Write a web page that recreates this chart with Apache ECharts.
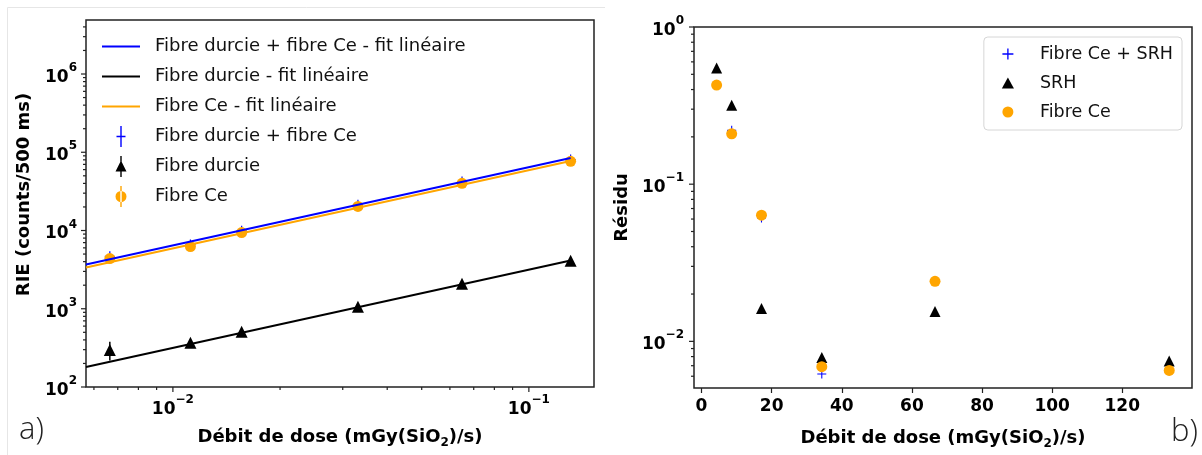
<!DOCTYPE html>
<html><head><meta charset="utf-8">
<script src="https://cdn.jsdelivr.net/npm/echarts@6/dist/echarts.min.js"></script>
<style>html,body{margin:0;padding:0;background:#fff}#c{width:1202px;height:455px}</style>
</head><body><div id="c"></div>
<script>
// ---------- data : panel a) ----------
const doseRIE      = [0.00665, 0.0112, 0.0156, 0.0331, 0.0649, 0.131];
const rieSum       = [4680, 6610, 9930, 21400, 42200, 80800];
const rieSumErr    = [300, 350, 450, 900, 1800, 3500];
const rieDurcie    = [298, 367, 507, 1062, 2090, 4120];
const rieDurcieErr = [80, 20, 25, 50, 90, 150];
const rieCe        = [4380, 6240, 9420, 20300, 40100, 76700];
const rieCeErr     = [250, 300, 400, 800, 1500, 3000];
const fitDose      = [0.0057, 0.131];
const fitSum       = [3670, 84300];
const fitDurcie    = [180, 4130];
const fitCe        = [3360, 77300];

// ---------- data : panel b) ----------
const doseRes = [4.3, 8.6, 17.1, 34.3, 66.6, 133.4];
const resSum  = [0.43, 0.22, 0.061, 0.0062, 0.024, 0.0065];
const resSRH  = [0.548, 0.318, 0.0162, 0.0079, 0.0155, 0.0075];
const resCe   = [0.427, 0.209, 0.0635, 0.0069, 0.0241, 0.00653];

// ---------- ticks ----------
const rieMajor  = [1e2, 1e3, 1e4, 1e5, 1e6];
const rieMinor  = [200,300,400,500,600,700,800,900, 2e3,3e3,4e3,5e3,6e3,7e3,8e3,9e3,
                   2e4,3e4,4e4,5e4,6e4,7e4,8e4,9e4, 2e5,3e5,4e5,5e5,6e5,7e5,8e5,9e5, 2e6,3e6,4e6];
const doseMajor = [0.01, 0.1];
const doseMinor = [0.006,0.007,0.008,0.009, 0.02,0.03,0.04,0.05,0.06,0.07,0.08,0.09];
const resMajor  = [0.01, 0.1, 1];
const resMinor  = [0.006,0.007,0.008,0.009, 0.02,0.03,0.04,0.05,0.06,0.07,0.08,0.09,
                   0.2,0.3,0.4,0.5,0.6,0.7,0.8,0.9];
const doseLinTicks = [0, 20, 40, 60, 80, 100, 120];

const FONT = 'DejaVu Sans';
const BLUE = '#0000ff', ORANGE = '#ffa500', BLACK = '#000000';

const plusPath = 'path://M0,4.4 H10 V5.6 H0 Z M4.4,0 H5.6 V10 H4.4 Z';
const triPath  = 'path://M5.5,0 L11,10 L0,10 Z';
const linePath = 'path://M0,0 H38 V2 H0 Z';
const plusBar  = 'path://M0,9.8 H9 V11.2 H0 Z M3.8,0 H5.2 V21 H3.8 Z';
const triBar   = 'path://M5.5,4.5 L11,15.5 L0,15.5 Z M4.8,0 H6.2 V21 H4.8 Z';
const circBar  = 'path://M0,10.5 A5.5,5.5 0 1 0 11,10.5 A5.5,5.5 0 1 0 0,10.5 Z M4.8,0 H6.2 V21 H4.8 Z';

function logLabel(v) {
  const e = Math.log10(v), r = Math.round(e);
  if (Math.abs(e - r) > 1e-6) return '';
  return '{b|10}{s|' + (r < 0 ? '\u2212' + (-r) : r) + '}';
}
const logRich = {
  b: {fontFamily: FONT, fontWeight: 'bold', fontSize: 17, color: '#000', lineHeight: 24, verticalAlign: 'bottom'},
  s: {fontFamily: FONT, fontWeight: 'bold', fontSize: 12, color: '#000', lineHeight: 14, verticalAlign: 'top'}
};
function nameStyle(pad) {
  return {
    fontFamily: FONT, fontWeight: 'bold', fontSize: 18, color: '#000', lineHeight: 24, padding: pad,
    rich: {sub: {fontFamily: FONT, fontWeight: 'bold', fontSize: 12, color: '#000', verticalAlign: 'bottom', lineHeight: 13}}
  };
}

function errSeries(name, xi, yi, xs, ys, es, color) {
  return {
    type: 'custom', name, xAxisIndex: xi, yAxisIndex: yi, silent: true,
    data: xs.map((x, i) => [x, ys[i] - es[i], ys[i] + es[i]]),
    encode: {x: 0, y: [1, 2]},
    renderItem: (p, api) => {
      const a = api.coord([api.value(0), api.value(1)]);
      const b = api.coord([api.value(0), api.value(2)]);
      return {type: 'line', shape: {x1: a[0], y1: a[1], x2: b[0], y2: b[1]},
              style: {stroke: color, lineWidth: 1.5}};
    }
  };
}
function tickSeries(xi, yi, vals, dir, len, ref) {
  return {
    type: 'custom', name: 'ticks', xAxisIndex: xi, yAxisIndex: yi, silent: true, clip: false, z: 10,
    data: vals.map(v => dir === 'y' ? [ref, v] : [v, ref]),
    encode: {x: 0, y: 1},
    renderItem: (p, api) => {
      const cs = p.coordSys;
      const pt = api.coord([api.value(0), api.value(1)]);
      const shape = dir === 'y'
        ? {x1: cs.x - len, y1: pt[1], x2: cs.x, y2: pt[1]}
        : {x1: pt[0], y1: cs.y + cs.height, x2: pt[0], y2: cs.y + cs.height + len};
      return {type: 'line', shape, style: {stroke: '#222', lineWidth: 1.2}};
    }
  };
}
function scatter(name, xi, xs, ys, symbol, size, color) {
  return {type: 'scatter', name, xAxisIndex: xi, yAxisIndex: xi, symbol, symbolSize: size,
          color, itemStyle: {color, opacity: 1}, silent: true,
          data: xs.map((x, i) => [x, ys[i]])};
}

const chart = echarts.init(document.getElementById('c'), null, {renderer: 'canvas'});
chart.setOption({
  animation: false,
  backgroundColor: '#fff',
  textStyle: {fontFamily: FONT},
  grid: [
    {left: 86, top: 20, width: 508, height: 367, show: true, borderColor: '#222', borderWidth: 1.5, outerBoundsMode: 'none'},
    {left: 694, top: 27, width: 498, height: 361, show: true, borderColor: '#222', borderWidth: 1.5, outerBoundsMode: 'none'}
  ],
  xAxis: [
    {type: 'log', gridIndex: 0, min: 0.0057, max: 0.1524, logBase: 10,
     axisLine: {show: false}, axisTick: {show: false}, splitLine: {show: false}, minorTick: {show: false},
     axisLabel: {formatter: logLabel, rich: logRich, margin: 7},
     name: 'Débit de dose (mGy(SiO{sub|2})/s)', nameLocation: 'middle', nameGap: 38, nameMoveOverlap: false,
     nameTextStyle: nameStyle(0)},
    {type: 'value', gridIndex: 1, min: -2.15, max: 139.9,
     axisLine: {show: false}, splitLine: {show: false},
     axisTick: {show: true, inside: false, length: 5, customValues: doseLinTicks, lineStyle: {color: '#222', width: 1.2}},
     axisLabel: {customValues: doseLinTicks, margin: 10, fontFamily: FONT, fontWeight: 'bold', fontSize: 17, color: '#000'},
     name: 'Débit de dose (mGy(SiO{sub|2})/s)', nameLocation: 'middle', nameGap: 38, nameMoveOverlap: false,
     nameTextStyle: nameStyle(0)}
  ],
  yAxis: [
    {type: 'log', gridIndex: 0, min: 100, max: 4.9e6, logBase: 10,
     axisLine: {show: false}, axisTick: {show: false}, splitLine: {show: false},
     axisLabel: {formatter: logLabel, rich: logRich, margin: 9},
     name: 'RIE (counts/500 ms)', nameLocation: 'middle', nameGap: 50, nameMoveOverlap: false,
     nameTextStyle: nameStyle([0, 0, 0, 18])},
    {type: 'log', gridIndex: 1, min: 0.00505, max: 1, logBase: 10,
     axisLine: {show: false}, axisTick: {show: false}, splitLine: {show: false},
     axisLabel: {formatter: logLabel, rich: logRich, margin: 10},
     name: 'Résidu', nameLocation: 'middle', nameGap: 60, nameMoveOverlap: false,
     nameTextStyle: nameStyle(0)}
  ],
  legend: [
    {left: 97, top: 31, orient: 'vertical', itemWidth: 38, itemHeight: 21, itemGap: 9,
     symbolKeepAspect: true, selectedMode: false,
     textStyle: {fontFamily: FONT, fontSize: 18, lineHeight: 21, color: '#111', padding: [0, 0, 0, 10]},
     data: [
       {name: 'Fibre durcie + fibre Ce - fit linéaire', icon: linePath},
       {name: 'Fibre durcie - fit linéaire', icon: linePath},
       {name: 'Fibre Ce - fit linéaire', icon: linePath},
       {name: 'Fibre durcie + fibre Ce', icon: plusBar},
       {name: 'Fibre durcie', icon: triBar},
       {name: 'Fibre Ce', icon: circBar}
     ]},
    {right: 20, top: 37, orient: 'vertical', itemWidth: 30, itemHeight: 11, itemGap: 9,
     padding: [7, 9, 8, 18], symbolKeepAspect: true, selectedMode: false,
     borderColor: '#d6d6d6', borderWidth: 1, borderRadius: 4, backgroundColor: '#fff',
     textStyle: {fontFamily: FONT, fontSize: 17.5, lineHeight: 20, color: '#111', padding: [0, 0, 0, 12]},
     data: [
       {name: 'Fibre Ce + SRH', icon: plusPath},
       {name: 'SRH', icon: triPath},
       {name: 'Fibre Ce', icon: 'circle'}
     ]}
  ],
  series: [
    {type: 'line', name: 'Fibre durcie + fibre Ce - fit linéaire', xAxisIndex: 0, yAxisIndex: 0,
     symbol: 'none', color: BLUE, lineStyle: {width: 2, color: BLUE}, silent: true,
     data: fitDose.map((x, i) => [x, fitSum[i]])},
    {type: 'line', name: 'Fibre durcie - fit linéaire', xAxisIndex: 0, yAxisIndex: 0,
     symbol: 'none', color: BLACK, lineStyle: {width: 2, color: BLACK}, silent: true,
     data: fitDose.map((x, i) => [x, fitDurcie[i]])},
    {type: 'line', name: 'Fibre Ce - fit linéaire', xAxisIndex: 0, yAxisIndex: 0,
     symbol: 'none', color: ORANGE, lineStyle: {width: 2, color: ORANGE}, silent: true,
     data: fitDose.map((x, i) => [x, fitCe[i]])},
    errSeries('errSum', 0, 0, doseRIE, rieSum, rieSumErr, BLUE),
    scatter('Fibre durcie + fibre Ce', 0, doseRIE, rieSum, plusPath, 10, BLUE),
    errSeries('errDurcie', 0, 0, doseRIE, rieDurcie, rieDurcieErr, BLACK),
    scatter('Fibre durcie', 0, doseRIE, rieDurcie, 'triangle', 12, BLACK),
    errSeries('errCe', 0, 0, doseRIE, rieCe, rieCeErr, ORANGE),
    scatter('Fibre Ce', 0, doseRIE, rieCe, 'circle', 11, ORANGE),

    scatter('Fibre Ce + SRH', 1, doseRes, resSum, plusPath, 9, BLUE),
    scatter('SRH', 1, doseRes, resSRH, 'triangle', 11, BLACK),
    scatter('Fibre Ce', 1, doseRes, resCe, 'circle', 11, ORANGE),

    tickSeries(0, 0, rieMajor, 'y', 5, 0.01),
    tickSeries(0, 0, rieMinor, 'y', 3, 0.01),
    tickSeries(0, 0, doseMajor, 'x', 5, 1000),
    tickSeries(0, 0, doseMinor, 'x', 3, 1000),
    tickSeries(1, 1, resMajor, 'y', 5, 50),
    tickSeries(1, 1, resMinor, 'y', 3, 50)
  ],
  graphic: [
    {type: 'polyline', silent: true, shape: {points: [[7.5, 460], [7.5, 7.5], [605, 7.5]]},
     style: {stroke: '#e6e6e6', lineWidth: 1, fill: null}},
    {type: 'text', x: 19, y: 430, silent: true,
     style: {text: 'a)', font: '300 31px "Open Sans"', fill: '#222', verticalAlign: 'middle', align: 'left'}},
    {type: 'text', x: 1171, y: 432, silent: true,
     style: {text: 'b)', font: '300 31px "Open Sans"', fill: '#222', verticalAlign: 'middle', align: 'left'}}
  ]
});
</script>
</body></html>
